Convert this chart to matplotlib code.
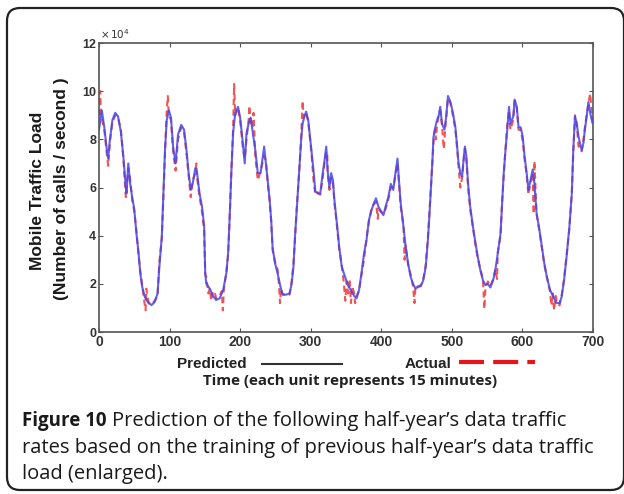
import numpy as np
import matplotlib.pyplot as plt
from matplotlib.lines import Line2D
from matplotlib.patches import FancyBboxPatch

# Predicted load (x 10^4 calls / second)
pred_t = [0, 4, 7.5, 11, 13, 15.5, 19, 23, 27, 31, 34.5, 38, 39, 41.5, 44, 47, 50, 53, 56, 58.5,
          61, 65, 70, 74.5, 79, 83, 85.5, 89, 91, 93.5, 96, 99, 102, 105, 108.5, 112, 116.5, 120.5,
          124, 127, 130, 133, 136.5, 139, 142.5, 146, 149, 150.5, 152, 157, 161.5, 166, 171, 176,
          180.5, 183, 185, 187.5, 190, 193, 197, 200, 204, 206.5, 209, 212, 215, 218, 221.5, 225,
          229, 234, 236.5, 239, 241.5, 244, 246, 249.5, 253, 257, 260, 265, 270, 273, 275.5, 278,
          280.5, 284, 286.5, 288.5, 291, 293.5, 296.5, 300.5, 304, 306.5, 310, 313.5, 317, 319.5,
          322, 324, 326.5, 329, 331.5, 333.5, 337.5, 340.5, 344, 348, 352, 356.5, 361.5, 365,
          368.5, 372, 375.5, 379, 382.5, 386, 389.5, 392.5, 396, 399, 403, 406, 410, 413.5, 417,
          420.5, 423, 425, 427.5, 431.5, 434.5, 438, 441.5, 445, 448.5, 452, 456, 459.5, 463, 466,
          468.5, 472, 474, 476.5, 479, 481.5, 483.5, 486, 489.5, 492, 494.5, 498, 501.5, 505,
          507.5, 509.5, 512, 514.5, 517, 518.5, 520.5, 523, 526, 530, 533.5, 536.5, 540.5, 544,
          547.5, 551, 554.5, 558.5, 561.5, 565, 569, 571, 573.5, 576, 578.5, 581, 583, 587, 589,
          592, 594.5, 597.5, 600.5, 603, 606, 608.5, 611.5, 614.5, 617, 620, 624, 627.5, 631,
          634.5, 639, 644, 648.5, 652.5, 655.5, 659, 663, 666.5, 670, 672, 674.5, 677, 679.5,
          681.5, 684, 686.5, 688.5, 691, 693.5, 696, 699]
pred_v = [8.4, 9.2, 8.5, 7.6, 7.2, 8.0, 8.8, 9.1, 8.95, 8.3, 7.3, 6.0, 5.75, 7.0, 6.2, 5.6, 5.1, 4.1, 3.3, 2.45,
          1.9, 1.45, 1.2, 1.12, 1.25, 1.6, 2.7, 3.95, 5.5, 7.55, 8.8, 9.2, 8.9, 7.7, 7.0, 8.2, 8.6, 8.4,
          7.55, 6.6, 5.9, 6.2, 6.8, 6.6, 5.75, 5.2, 4.4, 2.45, 2.0, 1.8, 1.5, 1.33, 1.4, 1.75,
          2.45, 3.3, 4.65, 6.6, 8.25, 9.1, 9.35, 8.9, 7.8, 7.0, 8.25, 8.65, 8.9, 8.25, 7.55, 6.6,
          6.6, 7.7, 7.0, 6.3, 5.6, 4.65, 3.5, 2.85, 2.45, 1.9, 1.55, 1.55, 1.6, 2.0, 2.7, 4.1,
          5.2, 6.85, 8.0, 8.65, 8.95, 9.15, 8.8, 7.7, 6.7, 5.85, 5.75, 5.75, 6.6, 7.1,
          7.7, 6.7, 6.0, 6.6, 6.3, 5.5, 4.4, 3.5, 2.7, 2.35, 2.0, 1.75, 1.5, 1.4,
          1.75, 2.45, 3.25, 3.8, 4.65, 5.05, 5.35, 5.55, 5.2, 5.05, 4.85, 5.2, 5.6, 6.15, 5.9,
          6.7, 7.2, 6.3, 5.35, 4.35, 3.55, 2.85, 2.3, 2.0, 1.8, 1.9, 1.9, 2.15, 2.7, 3.8,
          5.0, 6.85, 8.1, 8.5, 8.8, 9.0, 9.35, 8.65, 8.4, 8.95, 9.8, 9.55, 9.1, 8.5,
          7.7, 7.0, 6.6, 6.45, 7.3, 7.7, 7.3, 6.15, 5.2, 4.35, 3.7, 3.15, 2.55, 2.15,
          1.95, 2.0, 1.85, 2.15, 2.55, 3.25, 4.1, 5.2, 6.6, 7.55, 8.4, 9.35, 8.65, 8.95, 9.65,
          9.35, 8.5, 8.5, 8.1, 7.3, 6.6, 5.9, 6.3, 6.75, 6.15, 4.95, 4.25, 3.55, 2.85,
          2.3, 1.75, 1.45, 1.2, 1.2, 1.45, 2.15, 3.25, 4.35, 5.75, 7.55, 8.95, 8.65, 8.1,
          7.85, 7.55, 7.85, 8.4, 8.95, 9.55, 9.1, 8.7]

# Actual load (x 10^4 calls / second)
act_t = [0, 1.5, 3, 7.5, 11, 13, 15.5, 19, 23, 27, 31, 34.5, 38, 39, 41.5, 44, 47, 50, 53, 56, 58.5,
         61, 64, 66, 67, 70, 74.5, 79, 83, 85.5, 89, 91, 93.5, 96, 97.5, 99, 102, 105, 108.5, 112,
         116.5, 120.5, 124, 127, 130, 133, 136.5, 138, 139, 142.5, 146, 149, 150.5, 152, 155, 157,
         159, 161.5, 164, 166, 171, 174, 175.5, 177, 180.5, 183, 185, 187.5, 190, 191.5, 193, 197,
         200, 204, 206.5, 209, 212, 213, 215, 218, 219, 221.5, 225, 229, 234, 236.5, 239, 241.5,
         244, 246, 249.5, 253, 255, 256.5, 258, 260, 265, 270, 273, 275.5, 278, 280.5, 284, 286.5,
         288.5, 290, 293.5, 296.5, 300.5, 304, 306.5, 310, 313.5, 317, 319.5, 322, 323.5, 324,
         326.5, 329, 331.5, 333.5, 337.5, 340.5, 344, 347, 349, 351, 353, 355, 357, 359, 361.5,
         363, 365, 368.5, 372, 375.5, 379, 382.5, 386, 389.5, 392.5, 395, 396, 399, 403, 406, 410,
         413.5, 417, 420.5, 423, 425, 427.5, 431.5, 433, 434.5, 438, 441.5, 445, 447, 448.5, 452,
         456, 459.5, 463, 466, 468.5, 472, 474, 476, 477.5, 479, 481.5, 483.5, 486, 488.5, 490,
         492, 494.5, 498, 501.5, 505, 507.5, 509.5, 512, 514.5, 517, 518.5, 520.5, 523, 526, 530,
         533.5, 536.5, 540.5, 544, 546, 547.5, 551, 554.5, 558.5, 561.5, 564, 565, 569, 571, 573.5,
         576, 578.5, 581, 583, 587, 589, 592, 594.5, 597.5, 600.5, 603, 606, 608.5, 611.5, 614.5,
         616, 617, 620, 624, 627.5, 631, 634.5, 639, 641, 643, 645, 647, 648.5, 652.5, 655.5, 659,
         663, 666.5, 670, 672, 674.5, 677, 679.5, 681.5, 684, 686.5, 688.5, 691, 693.5, 696, 699]
act_v = [9.0, 10.0, 9.0, 8.4, 7.4, 6.9, 7.9, 8.7, 9.0, 8.9, 8.4, 7.2, 5.6, 6.0, 6.8, 6.4, 5.5, 5.0, 4.2, 3.2, 2.5,
         2.0, 1.3, 0.9, 1.8, 1.25, 1.15, 1.3, 1.5, 2.9, 3.9, 5.4, 7.4, 9.2, 9.8, 9.0, 8.8, 7.5, 6.7, 8.0,
         8.5, 8.3, 7.4, 6.5, 5.6, 6.3, 6.6, 7.0, 6.4, 5.6, 5.0, 4.2, 2.4, 2.3, 1.6, 1.8,
         1.3, 1.7, 1.65, 1.4, 1.5, 1.7, 0.9, 1.8, 2.5, 3.2, 4.6, 6.7, 8.4, 10.3, 9.0, 9.3,
         8.8, 7.6, 7.2, 8.0, 8.8, 9.4, 8.7, 8.5, 9.1, 7.3, 6.3, 6.7, 7.3, 7.1, 6.2, 5.5,
         4.6, 3.4, 2.9, 2.6, 2.0, 1.2, 1.8, 1.6, 1.5, 1.55, 2.1, 2.8, 4.0, 5.3, 6.8, 8.1,
         9.6, 8.9, 9.1, 8.7, 7.6, 6.3, 5.7, 5.8, 5.7, 6.4, 7.0, 7.5, 7.4, 6.6,
         5.9, 6.4, 6.2, 5.4, 4.3, 3.4, 2.8, 2.0, 1.3, 2.1, 1.6, 2.2, 1.2, 1.9, 1.6,
         1.2, 1.5, 1.7, 2.4, 3.0, 3.9, 4.6, 5.1, 5.3, 5.4, 4.7, 5.1, 5.0, 4.9, 5.1, 5.5,
         6.0, 6.0, 6.6, 7.0, 6.2, 5.2, 4.4, 3.0, 3.6, 2.8, 2.4, 1.9, 1.2, 1.9, 1.85,
         1.95, 2.2, 2.8, 3.9, 5.1, 6.9, 7.9, 8.4, 8.0, 8.6, 9.0, 9.2, 8.6, 7.6, 8.2,
         8.9, 9.7, 9.5, 9.0, 8.4, 7.6, 6.9, 6.0, 6.4, 7.2, 7.6, 7.2, 6.0, 5.1, 4.3,
         3.6, 3.1, 2.6, 2.2, 0.95, 1.8, 2.1, 1.9, 2.2, 2.6, 2.2, 3.3, 4.0, 5.3, 6.5,
         7.6, 8.6, 9.2, 8.4, 8.8, 9.6, 9.3, 8.4, 8.4, 7.9, 7.2, 6.5, 5.7, 6.2, 6.6,
         4.9, 7.1, 4.9, 4.2, 3.5, 2.8, 2.3, 1.7, 1.1, 1.6, 0.9, 1.5, 1.3, 1.1, 1.5, 2.2,
         3.3, 4.3, 5.8, 7.4, 9.0, 8.6, 7.7, 7.7, 7.5, 8.0, 8.5, 9.0, 9.5, 9.9, 8.8]

x_ticks = [0, 100, 200, 300, 400, 500, 600, 700]
y_ticks = [0, 2, 4, 6, 8, 10, 12]

W, H = 624, 494
fig = plt.figure(figsize=(W / 100, H / 100), dpi=100)

# rounded frame around chart + caption (kept behind everything)
frame = FancyBboxPatch((0.07, 0.04), 6.17, 4.82, boxstyle='round,pad=0,rounding_size=0.13',
                       transform=fig.dpi_scale_trans, facecolor='none', edgecolor='#222222',
                       lw=1.6, zorder=-5)
fig.add_artist(frame)

ax = fig.add_axes([99 / W, 1 - 332 / H, (593 - 99) / W, (332 - 43) / H])
ax.patch.set_alpha(0)
ax.plot(act_t, act_v, color='#f03535', lw=1.5, ls=(0, (3, 2)), alpha=0.85, zorder=2)
ax.plot(pred_t, pred_v, color='#4545ea', lw=1.5, alpha=0.85, zorder=3)

ax.set_xlim(0, 700)
ax.set_ylim(0, 12)
ax.set_xticks(x_ticks)
ax.set_yticks(y_ticks)
ax.tick_params(direction='in', top=True, right=True, length=3, width=0.8, color='#555555',
               labelcolor='#333333', pad=2)
ax.tick_params(axis='x', labelsize=10)
ax.tick_params(axis='y', labelsize=9)
for lab in ax.get_xticklabels() + ax.get_yticklabels():
    lab.set_family('Liberation Sans')
    lab.set_weight('bold')
for s in ax.spines.values():
    s.set_color('#555555')
    s.set_linewidth(1.2)

fig.text(100 / W, 1 - 34 / H, r'$\times\,10^4$', fontsize=7.5, color='#333333', va='center')

# y label (two lines)
fig.text(38 / W, 1 - 191 / H, 'Mobile Traffic Load', rotation=90, ha='center', va='center',
         family='Liberation Sans', weight='bold', fontsize=12.5, color='#1a1a1a')
fig.text(62 / W, 1 - 189 / H, '(Number of calls / second )', rotation=90, ha='center', va='center',
         family='Liberation Sans', weight='bold', fontsize=12.5, color='#1a1a1a')

# legend below the axes
ly = 1 - 364 / H
fig.text(177 / W, ly, 'Predicted', ha='left', va='center', family='Liberation Sans',
         weight='bold', fontsize=11, color='#222222')
fig.add_artist(Line2D([262 / W, 342 / W], [ly, ly], color='#333333', lw=1.5))
fig.text(405 / W, ly, 'Actual', ha='left', va='center', family='Liberation Sans',
         weight='bold', fontsize=11, color='#222222')
fig.add_artist(Line2D([459 / W, 535 / W], [ly + 0.004, ly + 0.004], color='#e8141a', lw=3,
                      ls=(0, (6, 2.2))))

fig.text(350 / W, 1 - 381 / H, 'Time (each unit represents 15 minutes)', ha='center', va='center',
         family='Open Sans', weight='bold', fontsize=10.9, color='#222222')

# caption
cap_kw = dict(family='Open Sans', fontsize=14.5, color='#1a1a1a', va='center')
fig.canvas.draw()
t1 = fig.text(22 / W, 1 - 421 / H, 'Figure 10', weight='bold', family='Open Sans',
              fontsize=13.5, color='#1a1a1a', va='center')
bb = t1.get_window_extent(renderer=fig.canvas.get_renderer())
fig.text(bb.x1 / W + 5 / W, 1 - 421 / H, 'Prediction of the following half-year\u2019s data traffic', **cap_kw)
fig.text(22 / W, 1 - 448 / H, 'rates based on the training of previous half-year\u2019s data traffic', **cap_kw)
fig.text(22 / W, 1 - 474 / H, 'load (enlarged).', **cap_kw)

fig.savefig('out.png', dpi=100)
